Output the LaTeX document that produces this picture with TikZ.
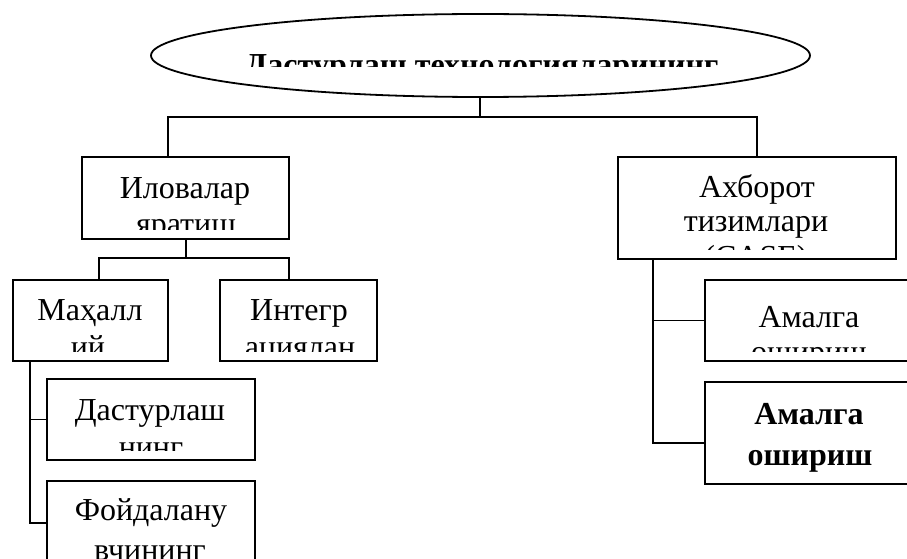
\documentclass[tikz,border=0pt]{standalone}
\usepackage{fontspec}
\setmainfont{Liberation Serif}
\usetikzlibrary{shapes.geometric}
\tikzset{
  boxnode/.style={draw, line width=1.8pt, rectangle, inner sep=0pt},
  ellnode/.style={draw, line width=1.8pt, ellipse, inner sep=0pt},
  conn/.style={line width=1.8pt},
  txt/.style={anchor=base, inner sep=0pt, font=\fontsize{32}{36}\selectfont},
  btxt/.style={anchor=base, inner sep=0pt, font=\fontsize{32}{36}\selectfont\bfseries},
  ttxt/.style={anchor=base, inner sep=0pt, font=\fontsize{32}{36}\selectfont\bfseries},
}
\begin{document}
\begin{tikzpicture}[x=1pt, y=-1pt]
\useasboundingbox (0,0) rectangle (907,559);
\clip (0,0) rectangle (907,559);
\fill[white] (0,0) rectangle (907,559);
% shapes
\node[ellnode, minimum width=659pt, minimum height=83pt] (top) at (480.5,55.5) {};
\node[boxnode, minimum width=207pt, minimum height=82pt] (ilov) at (185.5,198) {};
\node[boxnode, minimum width=155pt, minimum height=81pt] (mah) at (90.5,320.5) {};
\node[boxnode, minimum width=157pt, minimum height=81pt] (int) at (298.5,320.5) {};
\node[boxnode, minimum width=208pt, minimum height=81pt] (dast) at (151,419.5) {};
\node[boxnode, minimum width=208pt, minimum height=119pt] (foyd) at (151,540.5) {};
\node[boxnode, minimum width=278pt, minimum height=102pt] (axb) at (757,208) {};
\node[boxnode, minimum width=245pt, minimum height=81pt] (am1) at (827.5,320.5) {};
\node[boxnode, minimum width=245pt, minimum height=102pt] (am2) at (827.5,433) {};
% connectors
\coordinate (j1) at (480,117);
\draw[conn] (top.south -| j1) -- (j1);
\draw[conn] (ilov.north -| 168,0) |- (j1) -| (axb.north);
\coordinate (j2) at (186,258);
\draw[conn] (ilov.south -| j2) -- (j2);
\draw[conn] (mah.north -| 99,0) |- (j2) -| (int.north -| 289,0);
\coordinate (l1) at (30,0);
\draw[conn] (mah.south -| l1) |- (foyd.west |- 0,523);
\draw[conn] (mah.south -| l1) |- (dast.west);
\coordinate (l2) at (653,0);
\draw[conn] (axb.south -| l2) |- (am2.west |- 0,443);
\draw[conn] (axb.south -| l2) |- (am1.west);
% texts
\begin{scope}
\clip (top.north west) rectangle (907,67);
\node[ttxt] (ttop) at (482,76) {Дастурлаш технологияларининг};
\end{scope}
\begin{scope}
\clip (ilov.north west) rectangle ([yshift=10pt]ilov.south east);
\node[txt] (t1) at (185,198.5) {Иловалар};
\node[txt] (t2) at (186,234) {яратиш};
\end{scope}
\begin{scope}
\clip (mah.north west) rectangle ([yshift=10pt]mah.south east);
\node[txt] (t3) at (90,320) {Маҳалл};
\node[txt] (t4) at (88,357) {ий};
\end{scope}
\begin{scope}
\clip (int.north west) rectangle ([yshift=10pt]int.south east);
\node[txt] (t5) at (299,320) {Интегр};
\node[txt] (t6) at (300,357) {ациялан};
\end{scope}
\begin{scope}
\clip (dast.north west) rectangle ([yshift=10pt]dast.south east);
\node[txt] (t7) at (150,420) {Дастурлаш};
\node[txt] (t8) at (151,457) {нинг};
\end{scope}
\begin{scope}
\clip (foyd.north west) rectangle ([yshift=10pt]foyd.south east);
\node[txt] (t9) at (151,520) {Фойдалану};
\node[txt] (t10) at (150,560) {вчининг};
\end{scope}
\begin{scope}
\clip (axb.north west) rectangle ([yshift=10pt]axb.south east);
\node[txt] (t11) at (757,197) {Ахборот};
\node[txt] (t12) at (756,231) {тизимлари};
\node[txt] (t13) at (756,267) {(CASE)};
\end{scope}
\begin{scope}
\clip (am1.north west) rectangle ([yshift=10pt]am1.south east);
\node[txt] (t14) at (809,327) {Амалга};
\node[txt] (t15) at (809,362) {ошириш};
\end{scope}
\node[btxt] (t16) at (809,424) {Амалга};
\node[btxt] (t17) at (810,465) {ошириш};
\end{tikzpicture}
\end{document}
